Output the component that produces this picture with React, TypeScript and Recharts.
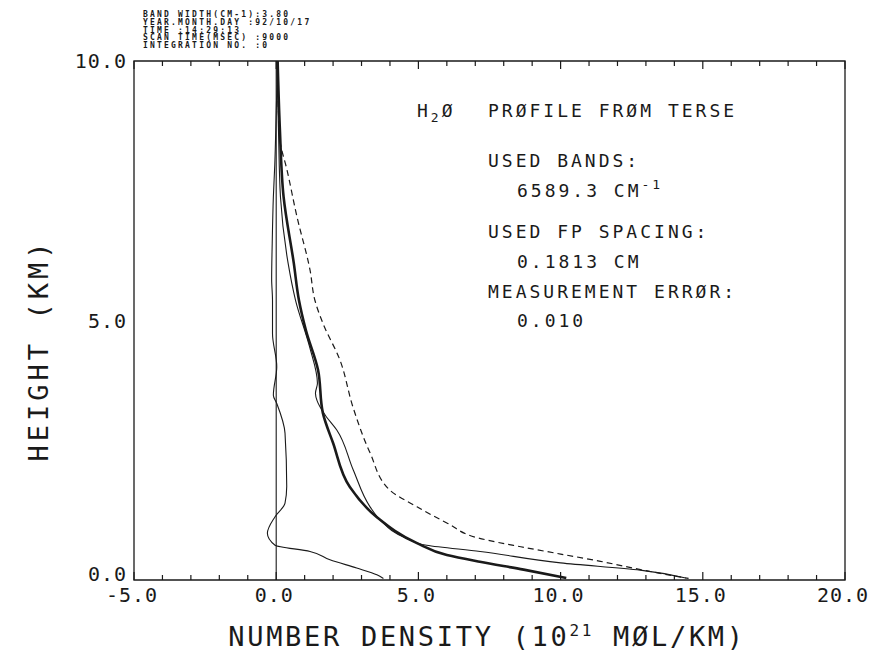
import React from 'react';
import { ComposedChart, Line, XAxis, YAxis, ReferenceLine, ReferenceArea } from 'recharts';

// Thick solid profile (retrieved)
const retrievedX = [0.05, 0.13, 0.26, 0.62, 0.8, 1.04, 1.47, 1.64, 2.0, 2.59, 3.54, 4.95, 6.0, 7.16, 8.7, 10.2];
const retrievedH = [10.0, 8.67, 7.38, 6.1, 5.39, 4.82, 4.05, 3.22, 2.64, 1.79, 1.21, 0.71, 0.48, 0.35, 0.2, 0.04];

// Thin solid profile
const thinX = [0.02, 0.08, 0.15, 0.42, 0.68, 1.17, 1.45, 1.38, 1.44, 1.72, 2.13, 2.71, 3.3, 3.65, 4.59, 5.29, 7.17, 10.0, 12.8, 14.4];
const thinH = [10.0, 8.67, 7.38, 6.1, 5.39, 4.5, 3.79, 3.6, 3.45, 3.18, 2.89, 2.12, 1.41, 1.16, 0.8, 0.67, 0.55, 0.33, 0.19, 0.04];

// Dashed profile
const dashedX = [0.05, 0.08, 0.13, 0.38, 0.73, 1.19, 1.36, 1.64, 2.24, 2.7, 3.3, 4.0, 4.95, 6.0, 7.1, 8.6, 10.0, 11.4, 13.0, 14.5];
const dashedH = [10.0, 9.0, 8.48, 7.9, 7.0, 5.97, 5.39, 4.95, 4.24, 3.33, 2.45, 1.73, 1.41, 1.1, 0.81, 0.64, 0.5, 0.36, 0.18, 0.03];

// Near-zero thin wiggly profile
const residX = [0.05, 0.0, -0.05, -0.1, -0.14, -0.16, -0.13, -0.13, 0.02, -0.1, 0.02, 0.31, 0.37, 0.31, -0.04, -0.31, -0.04, 1.19, 1.89, 2.83, 3.54, 3.77];
const residH = [10.0, 9.0, 8.0, 7.38, 6.49, 5.8, 5.39, 4.75, 4.11, 3.56, 3.4, 2.83, 1.8, 1.48, 1.22, 0.9, 0.67, 0.55, 0.39, 0.23, 0.1, 0.03];

const xTicks = Array.from({ length: 26 }, (_, i) => i - 5);
const yTicks = [0, 5, 10];

const headerLines = [
  'BAND WIDTH(CM-1):3.80',
  'YEAR.MONTH.DAY  :92/10/17',
  'TIME            :14:29:13',
  'SCAN TIME(MSEC) :9000',
  'INTEGRATION NO. :0',
];

const toPts = (xs: number[], hs: number[]) => xs.map((x, i) => ({ x, h: hs[i] }));

const INK = '#1a1a1a';
const FONT = '"DejaVu Sans Mono", monospace';

const BottomTick = (props: any) => {
  const { x, y, payload } = props;
  const v = payload.value as number;
  const major = v % 5 === 0;
  return (
    <g>
      <line x1={x} y1={y} x2={x} y2={y - (major ? 8 : 5)} stroke={INK} strokeWidth={1.2} />
      {major && (
        <text x={x - 2} y={y + 22} textAnchor="middle" fill={INK} style={{ fontFamily: FONT, fontSize: 20, letterSpacing: 1 }}>
          {v.toFixed(1)}
        </text>
      )}
    </g>
  );
};

const TopTick = (props: any) => {
  const { x, y, payload } = props;
  const v = payload.value as number;
  const major = v % 5 === 0;
  return <line x1={x} y1={y} x2={x} y2={y + (major ? 8 : 5)} stroke={INK} strokeWidth={1.2} />;
};

const LeftTick = (props: any) => {
  const { x, y, payload } = props;
  const v = payload.value as number;
  return (
    <text x={x - 7} y={y + (v === 0 ? -6 : 0)} dy="0.35em" textAnchor="end" fill={INK} style={{ fontFamily: FONT, fontSize: 20, letterSpacing: 1 }}>
      {v.toFixed(1)}
    </text>
  );
};

export default function App() {
  const annot = { fontFamily: FONT, fontSize: 18, letterSpacing: 3 } as React.CSSProperties;
  return (
    <div style={{ position: 'absolute', left: 0, top: 0, width: 870, height: 657, background: '#fff' }}>
      <ComposedChart layout="vertical" width={870} height={657} margin={{ top: 31, right: 25, bottom: 47, left: 74 }}>
        <XAxis
          xAxisId="b"
          type="number"
          domain={[-5, 20]}
          ticks={xTicks}
          interval={0}
          allowDataOverflow
          height={30}
          tickSize={0}
          tickMargin={0}
          tickLine={false}
          axisLine={false}
          tick={<BottomTick />}
        />
        <XAxis
          xAxisId="t"
          orientation="top"
          type="number"
          domain={[-5, 20]}
          ticks={xTicks}
          interval={0}
          allowDataOverflow
          height={30}
          tickSize={0}
          tickMargin={0}
          tickLine={false}
          axisLine={false}
          tick={<TopTick />}
        />
        <YAxis
          dataKey="h"
          type="number"
          domain={[0, 10]}
          ticks={yTicks}
          interval={0}
          reversed
          allowDataOverflow
          width={60}
          tickSize={0}
          tickMargin={0}
          tickLine={false}
          axisLine={false}
          tick={<LeftTick />}
        />
        <ReferenceArea xAxisId="b" x1={-5} x2={20} y1={0} y2={10} fill="none" fillOpacity={0} stroke={INK} strokeWidth={1.3} />
        <ReferenceLine xAxisId="b" x={0} stroke={INK} strokeWidth={1.1} />
        <Line xAxisId="b" data={toPts(residX, residH)} dataKey="x" type="monotone" stroke={INK} strokeWidth={1.1} dot={false} activeDot={false} isAnimationActive={false} />
        <Line xAxisId="b" data={toPts(dashedX, dashedH)} dataKey="x" type="monotone" stroke={INK} strokeWidth={1.2} strokeDasharray="6 4" dot={false} activeDot={false} isAnimationActive={false} />
        <Line xAxisId="b" data={toPts(thinX, thinH)} dataKey="x" type="monotone" stroke={INK} strokeWidth={1.1} dot={false} activeDot={false} isAnimationActive={false} />
        <Line xAxisId="b" data={toPts(retrievedX, retrievedH)} dataKey="x" type="monotone" stroke={INK} strokeWidth={2.6} dot={false} activeDot={false} isAnimationActive={false} />
      </ComposedChart>
      <svg width={870} height={657} style={{ position: 'absolute', left: 0, top: 0, pointerEvents: 'none' }}>
        <g fill={INK} style={{ fontFamily: FONT, fontSize: 8, fontWeight: 'bold', letterSpacing: 2.2, whiteSpace: 'pre' }}>
          {headerLines.map((l, i) => (
            <text key={i} x={143} y={16.7 + i * 7.9}>{l}</text>
          ))}
        </g>
        <g fill={INK} style={annot}>
          <text x={417} y={117}>H<tspan fontSize={13} dy={5}>2</tspan><tspan dy={-5}>Ø</tspan></text>
          <text x={488} y={117}>PRØFILE FRØM TERSE</text>
          <text x={488} y={167}>USED BANDS:</text>
          <text x={517} y={197}>6589.3 CM<tspan fontSize={13} dy={-8}>-1</tspan></text>
          <text x={488} y={238}>USED FP SPACING:</text>
          <text x={517} y={268}>0.1813 CM</text>
          <text x={488} y={298}>MEASUREMENT ERRØR:</text>
          <text x={517} y={327}>0.010</text>
        </g>
        <text x={48} y={350} transform="rotate(-90, 48, 350)" textAnchor="middle" fill={INK} style={{ fontFamily: FONT, fontSize: 27, letterSpacing: 4 }}>
          HEIGHT (KM)
        </text>
        <text x={487} y={646} textAnchor="middle" fill={INK} style={{ fontFamily: FONT, fontSize: 27, letterSpacing: 2.7 }}>
          NUMBER DENSITY (10<tspan fontSize={16} dy={-10}>21</tspan><tspan dy={10}> MØL/KM)</tspan>
        </text>
      </svg>
    </div>
  );
}
